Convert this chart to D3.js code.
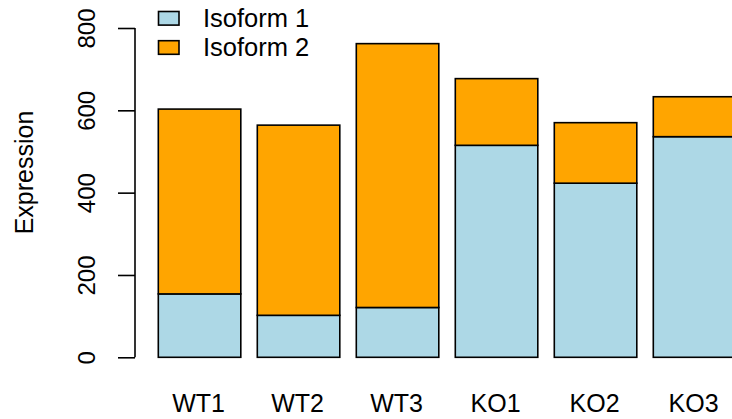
<!DOCTYPE html>
<html>
<head>
<meta charset="utf-8">
<script src="https://cdn.jsdelivr.net/npm/d3@7"></script>
<style>
  html, body { margin: 0; padding: 0; background: #fff; }
  svg { display: block; }
  text { font-family: "Liberation Sans", Arial, Helvetica, sans-serif; fill: #000; }
</style>
</head>
<body>
<svg id="chart" width="732" height="419"></svg>
<script>
// Samples and stacked isoform expression
const samples = ["WT1", "WT2", "WT3", "KO1", "KO2", "KO3"];
const isoform1 = [154, 102, 121, 515, 423, 536];
const isoform2 = [449, 462, 641, 162, 147, 97];
const seriesNames = ["Isoform 1", "Isoform 2"];
const seriesColors = ["#ADD8E6", "#FFA500"];
const yTicks = [0, 200, 400, 600, 800];

const svg = d3.select("#chart");
const fontSize = 24;
const labelSize = 25;
const legendSize = 25.5;

const y = d3.scaleLinear().domain([0, 800]).range([357.3, 28]);
const x = d3.scaleBand()
  .domain(samples)
  .range([158.3, 158.3 + 99 * 6 - 16.5])
  .paddingInner(1 - 82.5 / 99)
  .paddingOuter(0);

// Stack the two isoforms per sample
const rows = samples.map((s, i) => ({ sample: s, "Isoform 1": isoform1[i], "Isoform 2": isoform2[i] }));
const stacked = d3.stack().keys(seriesNames)(rows);

const bars = svg.append("g");
stacked.forEach((layer, li) => {
  bars.append("g")
    .selectAll("rect")
    .data(layer)
    .join("rect")
    .attr("x", d => x(d.data.sample))
    .attr("y", d => y(d[1]))
    .attr("width", x.bandwidth())
    .attr("height", d => y(d[0]) - y(d[1]))
    .attr("fill", seriesColors[li])
    .attr("stroke", "#000")
    .attr("stroke-width", 1.6);
});

// Y axis (left, rotated labels)
const yAxis = d3.axisLeft(y).tickValues(yTicks).tickSize(17).tickPadding(0).tickFormat(d3.format("d"));
const ya = svg.append("g").attr("transform", "translate(135,0)").call(yAxis);
ya.select(".domain").attr("d", `M0,${y(0)}V${y(800)}`).attr("stroke", "#000").attr("stroke-width", 1.6);
ya.selectAll(".tick line").attr("stroke", "#000").attr("stroke-width", 1.6);
ya.selectAll(".tick text")
  .attr("x", null).attr("dy", null)
  .attr("transform", "translate(-40,0) rotate(-90)")
  .attr("text-anchor", "middle")
  .style("font-size", fontSize + "px")
  .style("font-family", "'Liberation Sans', Arial, sans-serif");

// Sample labels beneath bars
svg.append("g")
  .selectAll("text")
  .data(samples)
  .join("text")
  .attr("x", d => x(d) + x.bandwidth() / 2 - 1)
  .attr("y", 411.5)
  .attr("text-anchor", "middle")
  .style("font-size", labelSize + "px")
  .text(d => d);

// Y axis title
svg.append("text")
  .attr("transform", `translate(33,${172.5}) rotate(-90)`)
  .attr("text-anchor", "middle")
  .style("font-size", labelSize + "px")
  .text("Expression");

// Legend
const legend = svg.append("g");
const legendY = [18.3, 47.5];
seriesNames.forEach((name, i) => {
  legend.append("rect")
    .attr("x", 158.5)
    .attr("y", legendY[i] - 6.8)
    .attr("width", 20.5)
    .attr("height", 13.6)
    .attr("fill", seriesColors[i])
    .attr("stroke", "#000")
    .attr("stroke-width", 1.6);
  legend.append("text")
    .attr("x", 203)
    .attr("y", legendY[i] + 8.8)
    .style("font-size", legendSize + "px")
    .text(name);
});
</script>
</body>
</html>
